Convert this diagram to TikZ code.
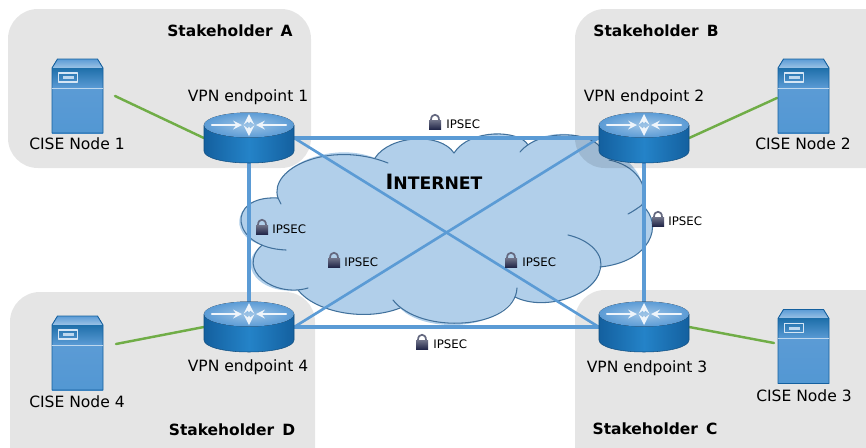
\documentclass[tikz,border=0pt]{standalone}
\usepackage{fontspec}
\setmainfont{DejaVu Sans}
\definecolor{cloudfill}{HTML}{B1CFEA}
\definecolor{cloudline}{HTML}{41719C}
\definecolor{linkblue}{HTML}{5B9BD5}
\definecolor{linkgreen}{HTML}{70AD47}
\definecolor{rimdark}{HTML}{14609F}
\definecolor{rimlight}{HTML}{2483C8}
\definecolor{lockdark}{HTML}{23284A}
\tikzset{
	zone/.style={fill=black, fill opacity=0.1, rounded corners=17pt},
	link/.style={draw=linkblue, line width=1.5pt},
	edgelink/.style={draw=linkblue, line width=1.9pt},
	uplink/.style={draw=linkgreen, line width=1.4pt},
	routerbox/.style={inner sep=0pt, minimum width=51pt, minimum height=28.35pt},
	serverbox/.style={inner sep=0pt, minimum width=29pt, minimum height=42pt},
	title/.style={font=\fontsize{8.8}{11}\selectfont\bfseries},
	tag/.style={font=\fontsize{8.85}{11}\selectfont},
	ipsec/.style={font=\fontsize{6.7}{8}\selectfont, anchor=west, inner sep=0pt},
	router/.pic={
		\draw[rimdark!80!black, line width=0.3pt, left color=rimdark, right color=rimdark, middle color=rimlight]
		(-45,-13) -- (-45,13) .. controls (-45,20) and (-25,25) .. (0,25) .. controls (25,25) and (45,20) .. (45,13) -- (45,-13) -- cycle;
		\fill[inner color=linkblue!60!white, outer color=linkblue] (0,-13) ellipse (45 and 12.5);
		\draw[white!90!linkblue, line width=1.2pt, ->] (-37,-13) -- (-7,-13);
		\draw[white!90!linkblue, line width=1.2pt, ->] (37,-13) -- (7,-13);
		\draw[white!90!linkblue, line width=1.6pt, ->] (0,-16) -- (0,-24);
		\draw[white!90!linkblue, line width=1.6pt, ->] (0,-10) -- (0,-2);
	},
	server/.pic={
		\fill[top color=linkblue, bottom color=linkblue!60] (-25.5,-28) -- (-20,-37) -- (20,-37) -- (25.5,-28) -- cycle;
		\fill[top color=rimlight!85!black, bottom color=linkblue] (-25.5,-28) rectangle (25.5,-8);
		\fill[top color=linkblue, middle color=rimlight, bottom color=linkblue!85!rimlight] (-25.5,-8) rectangle (25.5,37);
		\draw[rimdark, line width=0.5pt] (-25.5,-28) -- (-20,-37) -- (20,-37) -- (25.5,-28) -- (25.5,37) -- (-25.5,37) -- cycle;
		\draw[white!60!linkblue, line width=0.4pt] (-25.5,-8) -- (25.5,-8);
		\draw[white!75!linkblue, line width=0.7pt] (-19,-23) rectangle (0,-14);
		\fill[white!60!linkblue] (-15,-20) rectangle (-4,-17);
	},
	lock/.pic={
		\draw[lockdark!70!white, line width=1pt] (-4,-2) .. controls (-4,-9) and (4,-9) .. (4,-2);
		\fill[top color=lockdark!65!white, bottom color=lockdark] (-6,-2) rectangle (6,7);
	},
}
\begin{document}
\begin{tikzpicture}[line cap=round, line join=round, >=stealth, x=0.02cm, y=-0.02cm]
	\useasboundingbox (0,0) rectangle (866,447);
	\clip (0,0) rectangle (866,447);
	% cloud
	\path[fill=cloudfill] (278,198)
	.. controls (268,168) and (330,140) .. (375,158)
	.. controls (390,135) and (440,132) .. (454,153)
	.. controls (470,128) and (520,130) .. (528,145)
	.. controls (545,128) and (590,132) .. (600,147)
	.. controls (630,155) and (650,180) .. (642,205)
	.. controls (665,225) and (650,262) .. (600,267)
	.. controls (600,295) and (545,312) .. (515,297)
	.. controls (490,335) and (420,330) .. (400,308)
	.. controls (365,322) and (315,312) .. (298,290)
	.. controls (260,295) and (235,265) .. (262,245)
	.. controls (225,235) and (235,195) .. (278,198) -- cycle;
	\draw[cloudline, line width=0.6pt] (281,204) -- (278,198)
	.. controls (268,168) and (330,140) .. (388,163);
	\draw[cloudline, line width=0.6pt] (375,158)
	.. controls (390,135) and (440,132) .. (454,153);
	\draw[cloudline, line width=0.6pt] (454,153)
	.. controls (470,128) and (520,130) .. (528,145);
	\draw[cloudline, line width=0.6pt] (520,152)
	.. controls (540,128) and (590,132) .. (600,147);
	\draw[cloudline, line width=0.6pt] (609,160)
	.. controls (635,165) and (650,185) .. (642,205)
	.. controls (638,208) and (632,212) .. (628,214);
	\draw[cloudline, line width=0.6pt] (642,205)
	.. controls (665,225) and (650,262) .. (600,267);
	\draw[cloudline, line width=0.6pt] (568,235)
	.. controls (590,240) and (605,255) .. (600,270)
	.. controls (595,295) and (545,312) .. (515,297);
	\draw[cloudline, line width=0.6pt] (517,288)
	.. controls (515,330) and (420,335) .. (393,300);
	\draw[cloudline, line width=0.6pt] (400,308)
	.. controls (365,322) and (315,312) .. (298,290);
	\draw[cloudline, line width=0.6pt] (308,288)
	.. controls (275,298) and (235,270) .. (262,245);
	\draw[cloudline, line width=0.6pt] (286,250)
	.. controls (230,248) and (225,195) .. (278,198);
	% stakeholder areas
	\fill[zone] (8,9) rectangle (311,168);
	\fill[zone] (575,9) rectangle (920,168);
	\fill[zone] (575,290) rectangle (920,490);
	\fill[zone] (10,292) rectangle (315,490);
	% devices
	\node[routerbox] (r1) at (249,138) {};
	\node[routerbox] (r2) at (644,138) {};
	\node[routerbox] (r3) at (644,327) {};
	\node[routerbox] (r4) at (249,327) {};
	\node[serverbox] (s1) at (77.5,96) {};
	\node[serverbox] (s2) at (803.5,96) {};
	\node[serverbox] (s3) at (803.5,346.5) {};
	\node[serverbox] (s4) at (77.5,353) {};
	\coordinate (g1) at (115,96);
	\coordinate (g2) at (777,98);
	\coordinate (g3) at (774,343);
	\coordinate (g4) at (116,344);
	\draw[edgelink] (r1.east) -- (r2.west);
	\draw[edgelink] (r4.east) -- (r3.west);
	\draw[edgelink] (r1.south) -- (r4.north);
	\draw[edgelink] (r2.south) -- (r3.north);
	\draw[link] (r1.east) -- (r3.west);
	\draw[link] (r4.east) -- (r2.west);
	\draw[uplink] (r1.west) -- (g1);
	\draw[uplink] (r2.east) -- (g2);
	\draw[uplink] (r3.east) -- (g3);
	\draw[uplink] (r4.west) -- (g4);
	\pic at (r1) {router};
	\pic at (r2) {router};
	\pic at (r3) {router};
	\pic at (r4) {router};
	\pic at (s1) {server};
	\pic at (s2) {server};
	\pic at (s3) {server};
	\pic at (s4) {server};
	% labels
	\node[title] (ta) at (230,31) {Stakeholder\ \,A};
	\node[title] (tb) at (656,31) {Stakeholder\ \,B};
	\node[title] (tc) at (655,429) {Stakeholder\ \,C};
	\node[title] (td) at (232,430) {Stakeholder\ \,D};
	\node[tag] (v1) at (248,97) {VPN endpoint 1};
	\node[tag] (v2) at (644,97) {VPN endpoint 2};
	\node[tag] (v3) at (647,368) {VPN endpoint 3};
	\node[tag] (v4) at (248,367) {VPN endpoint 4};
	\node[tag] (c1) at (77,144) {CISE Node 1};
	\node[tag] (c2) at (803,144) {CISE Node 2};
	\node[tag] (c3) at (804,396) {CISE Node 3};
	\node[tag] (c4) at (77,402) {CISE Node 4};
	\node[font=\bfseries] (net) at (434,182) {\fontsize{12}{14}\selectfont I\fontsize{9.8}{14}\selectfont NTERNET};
	% locks
	\node[ipsec] (i1) at (446,124) {IPSEC};
	\node[ipsec] (i2) at (272,229) {IPSEC};
	\node[ipsec] (i3) at (344,262) {IPSEC};
	\node[ipsec] (i4) at (522,262) {IPSEC};
	\node[ipsec] (i5) at (668,221) {IPSEC};
	\node[ipsec] (i6) at (433,344) {IPSEC};
	\pic at (435,122) {lock};
	\pic at (262,227) {lock};
	\pic at (334,260) {lock};
	\pic at (511,260) {lock};
	\pic at (658,219) {lock};
	\pic at (422,342) {lock};
\end{tikzpicture}
\end{document}
